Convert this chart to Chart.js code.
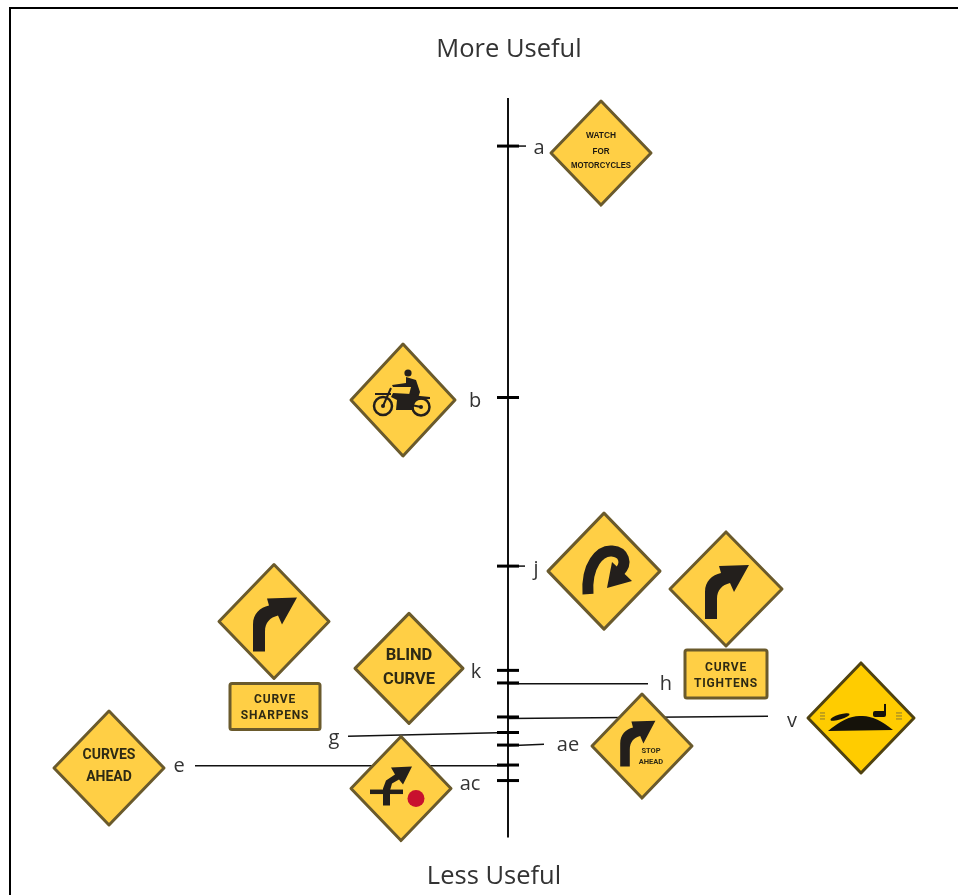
<!DOCTYPE html>
<html><head><meta charset="utf-8">
<style>html,body{margin:0;padding:0;background:#fff}canvas{display:block}</style>
<script src="https://cdn.jsdelivr.net/npm/chart.js@4/dist/chart.umd.min.js"></script>
</head><body><canvas id="c" width="958" height="895"></canvas>
<script>
// ---- data ----
const topLabel = 'More Useful';
const bottomLabel = 'Less Useful';
const signLabels = ['a','b','j','k','h','v','g','ae','e','ac'];
const usefulness = [93.5,59.5,36.7,22.6,20.9,16.3,14.2,12.5,9.8,7.7];
// ---- leader lines: label, start value, far-end value, far-end x (axis = 0) ----
const leaderLabels = ['a','j','h','v','g','ae','e'];
const leaderStart  = [93.5,36.7,20.8,16.1,14.2,12.4,9.7];
const leaderEnd    = [93.5,36.7,20.8,16.4,13.7,12.6,9.7];
const leaderReach  = [18,17,140,260,-160,36,-313];
// ---- layout (pixels relative to axis / tick) ----
const labelOffset = {a:[31,2],b:[-33,4],j:[28,3],k:[-32,2],h:[158,1],v:[284,4],g:[-174,6],ae:[60,0],e:[-329,1],ac:[-38,4]};
const signOffset  = {a:[93,7],b:[-105,2.5],j:[96,5],k:[-99,-2],h:[218,-94],v:[353,1],g:[-234,-111],ae:[134,1],e:[-399,3],ac:[-107,8]};
const INK='#231f1c', FILL='#FFCF45', EDGE='#6a5a2c', TXT='#2e2a14';

function diamond(g,hw,hh,fill,edge){
  g.beginPath();g.moveTo(0,-hh);g.lineTo(hw,0);g.lineTo(0,hh);g.lineTo(-hw,0);g.closePath();
  g.fillStyle=fill||FILL;g.strokeStyle=edge||EDGE;g.lineWidth=3;g.lineJoin='round';g.fill();g.stroke();
}
function txt(g,s,x,y,font,maxW,color,spacing){
  g.font=font;g.textAlign='center';g.textBaseline='middle';g.fillStyle=color||TXT;
  g.letterSpacing=spacing||'0px';
  if(maxW)g.fillText(s,x,y,maxW);else g.fillText(s,x,y);
  g.letterSpacing='0px';
}
function curveArrow(g){
  g.beginPath();g.moveTo(-21,30);g.lineTo(-21,3);
  g.bezierCurveTo(-21,-8,-14,-14,-5,-16);
  g.lineTo(-7,-23);g.lineTo(23,-24);g.lineTo(8,3);g.lineTo(4,-6);
  g.bezierCurveTo(-4,-4,-9,1,-9,10);g.lineTo(-9,30);g.closePath();
  g.fillStyle=INK;g.fill();
}
function plaque(g,x,y,w,h,a,b,font,ya,yb){
  g.beginPath();g.roundRect(x,y,w,h,2);g.fillStyle=FILL;g.strokeStyle=EDGE;g.lineWidth=3;g.fill();g.stroke();
  txt(g,a,x+w/2,ya,font,0,TXT,'0.8px');txt(g,b,x+w/2,yb,font,0,TXT,'0.8px');
}
function poly(g,p){g.beginPath();p.forEach((q,i)=>i?g.lineTo(q[0],q[1]):g.moveTo(q[0],q[1]));g.closePath();g.fill();}
const drawSign={
  a(g){diamond(g,50,52);
    const f='900 9px "Liberation Sans Narrow","Liberation Sans"';
    txt(g,'WATCH',0,-18,f,30,'#1c1810');txt(g,'FOR',0,-2,f,17,'#1c1810');txt(g,'MOTORCYCLES',0,12,f,60,'#1c1810');},
  b(g){diamond(g,52,56);g.fillStyle=INK;g.strokeStyle=INK;
    g.lineWidth=2.5;[[-20,6,9],[18,7,8.5]].forEach(w=>{g.beginPath();g.arc(w[0],w[1],w[2],0,7);g.stroke();g.beginPath();g.arc(w[0],w[1],2,0,7);g.fill();});
    g.beginPath();g.arc(5,-27,3.6,0,7);g.fill();
    poly(g,[[3,-23],[13,-20],[17,-8],[15,-2],[6,-5],[8,-13],[-10,-13],[-11,-15],[3,-17]]);
    poly(g,[[-10,-7],[8,-6],[17,-4],[27,-3],[27,-1],[12,0],[10,10],[-7,10],[-6,0],[-12,-3]]);
    g.lineWidth=2;g.beginPath();g.moveTo(-12,-12);g.lineTo(-20,6);g.moveTo(-28,-6);g.lineTo(-12,-6);g.moveTo(8,5);g.lineTo(18,7);g.stroke();},
  j(g){diamond(g,56,58);g.strokeStyle=INK;g.lineWidth=11;g.lineCap='butt';
    g.beginPath();g.moveTo(-16,23);g.bezierCurveTo(-18,-6,-4,-21,8,-20);g.bezierCurveTo(20,-19,24,-8,15,1);g.stroke();
    g.fillStyle=INK;poly(g,[[8,-9],[28,10],[3,17]]);},
  k(g){diamond(g,54,55);const f='bold 16.5px Roboto';txt(g,'BLIND',0,-12,f);txt(g,'CURVE',0,12,f);},
  h(g){diamond(g,56,57);curveArrow(g);
    plaque(g,-41,61,82,48,'CURVE','TIGHTENS','bold 12px Roboto',79,95);},
  v(g){diamond(g,53,55,'#FFCC00','#4f4210');g.fillStyle='#15120a';
    g.beginPath();g.moveTo(-33,13);g.quadraticCurveTo(-14,-3,0,-2);g.quadraticCurveTo(14,-3,32,12);g.closePath();g.fill();
    g.save();g.translate(-21,-1);g.rotate(-0.3);g.beginPath();g.ellipse(0,0,10,2.5,0,0,7);g.fill();g.restore();
    g.beginPath();g.roundRect(12,-7,13,6,2);g.fill();g.fillRect(23,-14,2,9);
    g.strokeStyle='#8a7a30';g.lineWidth=1;[[-41,-36],[35,41]].forEach(c=>{for(let i=0;i<3;i++){g.beginPath();g.moveTo(c[0],-5+i*3);g.lineTo(c[1],-5+i*3);g.stroke();}});},
  g(g){diamond(g,55,57);curveArrow(g);
    plaque(g,-44,62,90,46,'CURVE','SHARPENS','bold 12px Roboto',79,95);},
  ae(g){diamond(g,50,52);g.save();g.translate(-5,-5);g.scale(.8,.85);curveArrow(g);g.restore();
    const f='bold 7.5px Roboto';txt(g,'STOP',9,5,f);txt(g,'AHEAD',9,16,f);},
  e(g){diamond(g,55,57);const f='bold 14px Roboto';txt(g,'CURVES',0,-13,f);txt(g,'AHEAD',0,9,f);},
  ac(g){diamond(g,50,52);g.fillStyle=INK;
    g.fillRect(-31,1,33,4.5);
    poly(g,[[-18,17],[-18,0],[-15,-8],[-6,-14],[-10,-21],[11,-22],[2,-4],[-2,-9],[-9,-5],[-11,2],[-11,17]]);
    g.fillStyle='#C8102E';g.beginPath();g.arc(15,10,8.5,0,7);g.fill();}
};

const frameAndSigns={
  id:'frameAndSigns',
  beforeDraw(ch){const g=ch.ctx;g.save();g.fillStyle='#fff';g.fillRect(0,0,958,895);
    g.strokeStyle='#000';g.lineWidth=2;g.beginPath();g.moveTo(10,895);g.lineTo(10,8);g.lineTo(958,8);g.stroke();g.restore();},
  afterDatasetsDraw(ch){
    const g=ch.ctx,xs=ch.scales.x,ys=ch.scales.y;
    signLabels.forEach((l,i)=>{
      const o=signOffset[l];
      g.save();g.translate(xs.getPixelForValue(o[0]),ys.getPixelForValue(usefulness[i])+o[1]);
      g.filter='blur(0.5px)';drawSign[l](g);g.restore();
      const t=labelOffset[l];
      txt(g,l,xs.getPixelForValue(t[0]),ys.getPixelForValue(usefulness[i])+t[1],'20px "Open Sans"',0,'#333');
    });
    const ax=xs.getPixelForValue(0);
    txt(g,topLabel,ax+1,50,'25.5px "Open Sans"',0,'#333');
    txt(g,bottomLabel,ax-14,877,'25.5px "Open Sans"',0,'#333');
  }
};

const datasets=[
  {type:'line',data:[{x:0,y:0},{x:0,y:100}],borderColor:'#111',borderWidth:2,pointRadius:0,clip:false,order:3},
  ...leaderLabels.map((l,i)=>({type:'line',label:l,data:[{x:0,y:leaderStart[i]},{x:leaderReach[i],y:leaderEnd[i]}],borderColor:'#111',borderWidth:1.5,pointRadius:0,clip:false,order:2})),
  {type:'scatter',label:'ticks',data:signLabels.map((l,i)=>({x:0,y:usefulness[i]})),pointStyle:'line',pointRadius:11,pointHoverRadius:11,pointBorderWidth:3,borderColor:'#000',pointBorderColor:'#000',showLine:false,clip:false,order:1}
];
new Chart(document.getElementById('c'),{
  data:{datasets},
  options:{responsive:false,animation:false,
    layout:{autoPadding:false,padding:{top:98,bottom:57.5,left:0,right:0}},
    plugins:{legend:{display:false},tooltip:{enabled:false},title:{display:false}},
    scales:{x:{type:'linear',min:-508,max:450,display:false},y:{type:'linear',min:0,max:100,display:false}}},
  plugins:[frameAndSigns]
});
</script></body></html>
